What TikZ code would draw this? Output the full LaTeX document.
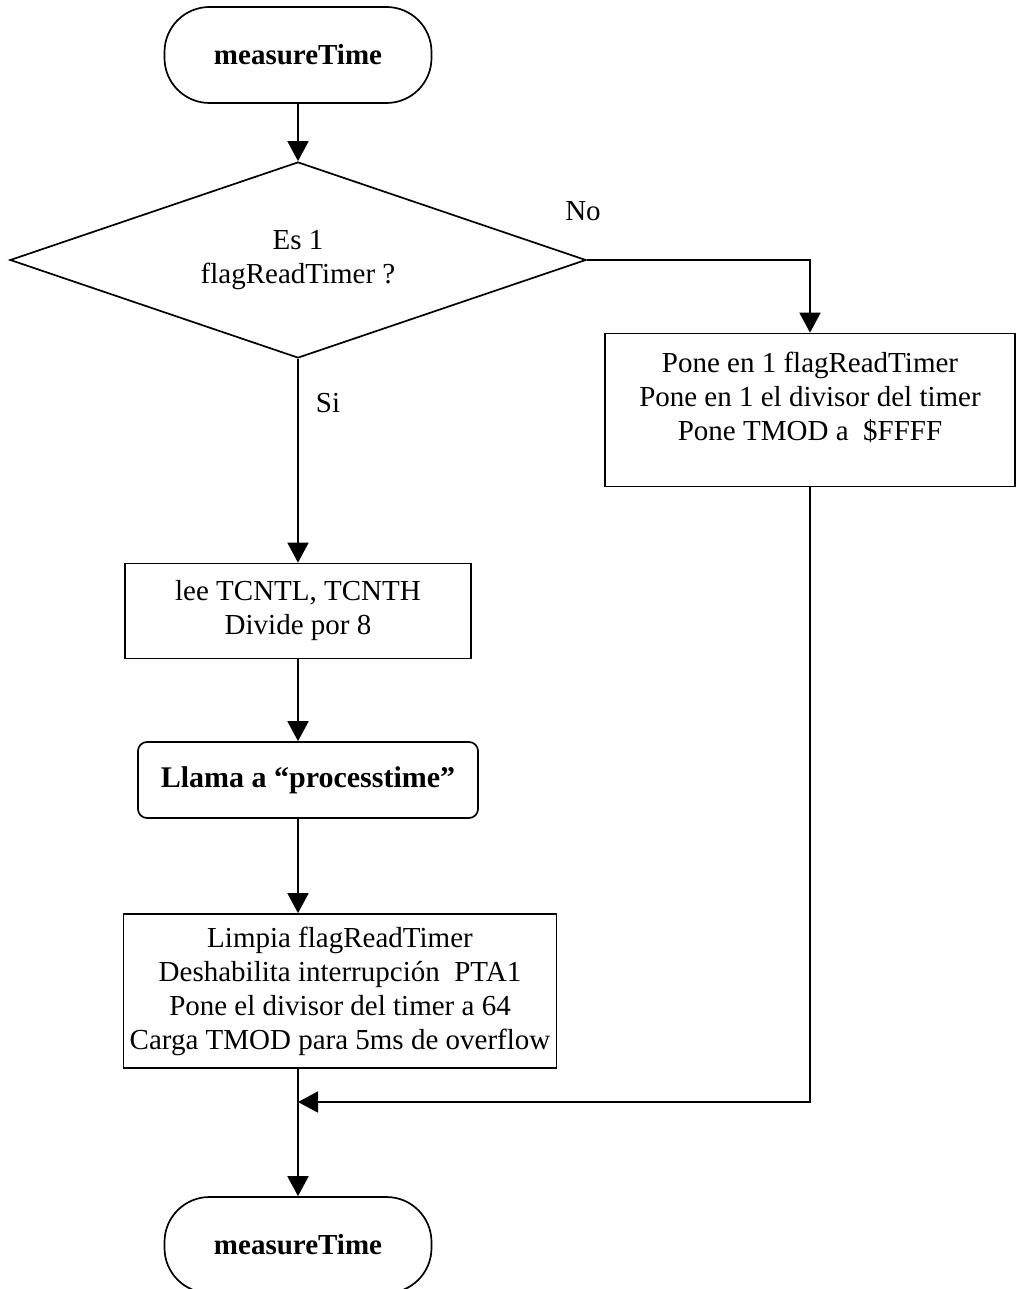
\documentclass[tikz,border=0pt]{standalone}
\usepackage{fontspec}
\setmainfont{Liberation Serif}
\usetikzlibrary{shapes.geometric,arrows.meta}
\begin{document}
\begin{tikzpicture}[x=1pt,y=-1pt,
  every node/.style={font=\fontsize{29}{34}\selectfont},
  every path/.style={line width=1.7pt},
  term/.style={draw, rounded corners=45pt, minimum width=267pt, minimum height=96pt,
    font=\fontsize{29}{34}\selectfont\bfseries},
  proc/.style={draw, align=center, inner sep=0pt},
  dec/.style={draw, shape=diamond, minimum width=576pt, minimum height=196pt,
    shape aspect=2.94, inner sep=0pt, align=center},
  arr/.style={-{Triangle[length=20pt,width=21pt]}},
  lbl/.style={inner sep=0pt}
]
\useasboundingbox (0,0) rectangle (1016,1289);

\node[term] (t1) at (298,55) {measureTime};
\node[dec] (d) at (298,260) {Es 1\\flagReadTimer ?};
\node[lbl] (no) at (583,211) {No};
\node[lbl] (si) at (328,403) {Si};
\node[proc, minimum width=410pt, minimum height=153pt] (r) at (810,410)
  {Pone en 1 flagReadTimer\\Pone en 1 el divisor del timer\\Pone TMOD a \ \$FFFF\\[-6pt]\mbox{}};
\node[proc, minimum width=346pt, minimum height=95pt] (lee) at (298,611)
  {lee TCNTL, TCNTH\\Divide por 8};
\node[proc, rounded corners=9pt, minimum width=340pt, minimum height=76pt,
  font=\fontsize{30}{36}\selectfont\bfseries] (ll) at (308,780)
  {Llama a “processtime”};
\node[proc, minimum width=433pt, minimum height=154pt] (lim) at (340,991)
  {Limpia flagReadTimer\\Deshabilita interrupción \ PTA1\\Pone el divisor del timer a 64\\Carga TMOD para 5ms de overflow};
\node[term] (t2) at (298,1245) {measureTime};
\coordinate (j) at (298,1102);

\draw[arr] (t1.south) -- (t1.south |- d.north);
\draw[arr] (d.east) -| (r.north);
\draw[arr] (d.south) -- (d.south |- lee.north);
\draw[arr] (lee.south) -- (lee.south |- ll.north);
\draw[arr] (lee.south |- ll.south) -- (lee.south |- lim.north);
\draw[arr] (r.south) |- (j);
\draw[arr] (t2.north |- lim.south) -- (t2.north);
\end{tikzpicture}
\end{document}
